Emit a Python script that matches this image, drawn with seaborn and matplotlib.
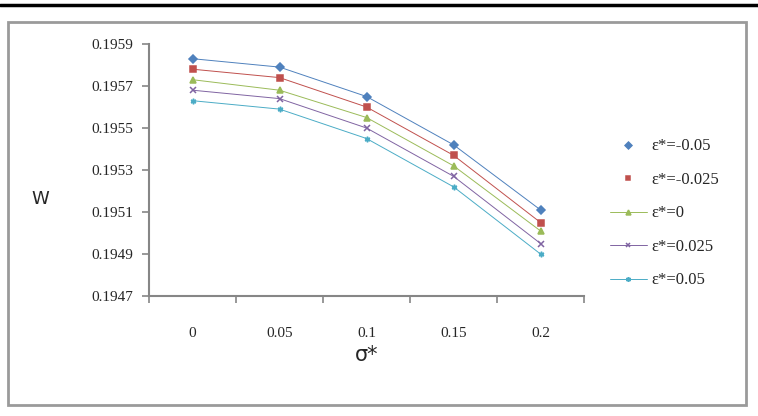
import numpy as np
import pandas as pd
import matplotlib
matplotlib.use("Agg")
import matplotlib.pyplot as plt
import seaborn as sns
from matplotlib.patches import Rectangle
from matplotlib.lines import Line2D

sns.set_theme(style="white")
plt.rcParams["font.family"] = ["Liberation Serif", "DejaVu Serif"]

# sigma* categories
sigma = ["0", "0.05", "0.1", "0.15", "0.2"]

# W values per epsilon* series
w_eps_m050 = [0.19583, 0.19579, 0.19565, 0.19542, 0.19511]
w_eps_m025 = [0.19578, 0.19574, 0.19560, 0.19537, 0.19505]
w_eps_000 = [0.19573, 0.19568, 0.19555, 0.19532, 0.19501]
w_eps_p025 = [0.19568, 0.19564, 0.19550, 0.19527, 0.19495]
w_eps_p050 = [0.19563, 0.19559, 0.19545, 0.19522, 0.19490]

labels = ["ε*=-0.05", "ε*=-0.025", "ε*=0", "ε*=0.025", "ε*=0.05"]
series = [w_eps_m050, w_eps_m025, w_eps_000, w_eps_p025, w_eps_p050]

colors = ["#4F81BD", "#C0504D", "#9BBB59", "#8064A2", "#4BACC6"]
markers = ["D", "s", "^", "x", (6, 2, 0)]

df = pd.DataFrame({
    "sigma": sigma * len(labels),
    "W": np.concatenate(series),
    "eps": np.repeat(labels, len(sigma)),
})

fig = plt.figure(figsize=(7.58, 4.16), dpi=100)
ax = fig.add_axes([149 / 758, 120 / 416, 435 / 758, 252 / 416])

sns.pointplot(data=df, x="sigma", y="W", hue="eps", order=sigma,
              hue_order=labels, palette=colors, markers=markers,
              linestyles="-", errorbar=None, dodge=False, ax=ax,
              markersize=4, linewidth=0.7, markeredgewidth=1.1)

ax.set_ylim(0.1947, 0.1959)
ax.set_yticks(np.arange(0.1947, 0.19591, 0.0002))
ax.set_yticklabels([f"{v:.4f}" for v in np.arange(0.1947, 0.19591, 0.0002)])
ax.set_xlim(-0.5, 4.5)
ax.set_xticks(np.arange(-0.5, 5, 1))
ax.set_xticklabels([])
ax.set_xticks(range(len(sigma)), minor=True)
ax.set_xticklabels(sigma, minor=True)
ax.tick_params(axis="x", which="minor", length=0, pad=22, labelsize=11)
ax.tick_params(axis="x", which="major", length=5, width=1.2, color="#868686",
               direction="out", bottom=True)
ax.tick_params(axis="y", length=5, width=1.2, color="#868686", direction="out",
               left=True, labelsize=11, pad=6)

for side in ["top", "right"]:
    ax.spines[side].set_visible(False)
for side in ["left", "bottom"]:
    ax.spines[side].set_color("#868686")
    ax.spines[side].set_linewidth(1.5)

ax.set_xlabel("σ*", fontsize=15, family=["DejaVu Sans"], labelpad=4)
ax.set_ylabel("W", fontsize=13, family=["DejaVu Sans"], rotation=0, labelpad=0)
ax.yaxis.set_label_coords(-0.25, 0.35)

sns.move_legend(ax, loc="upper left", bbox_to_anchor=(1.025, 0.685),
                frameon=False, title=None, fontsize=12, labelspacing=1.05,
                handlelength=2.2, handletextpad=0.3)
leg = ax.get_legend()
for i, h in enumerate(leg.legend_handles):
    h.set_markersize(3.5)
    if i < 2:
        h.set_linestyle("None")

# outer chart frame and top rule
fig.add_artist(Rectangle((8 / 758, 11 / 416), 738 / 758, 383 / 416,
                         transform=fig.transFigure, fill=False,
                         edgecolor="#9a9a9a", linewidth=2))
fig.add_artist(Line2D([0, 1], [1 - 5 / 416] * 2, transform=fig.transFigure,
                      color="black", linewidth=2.5))

plt.savefig("out.png", dpi=100)
